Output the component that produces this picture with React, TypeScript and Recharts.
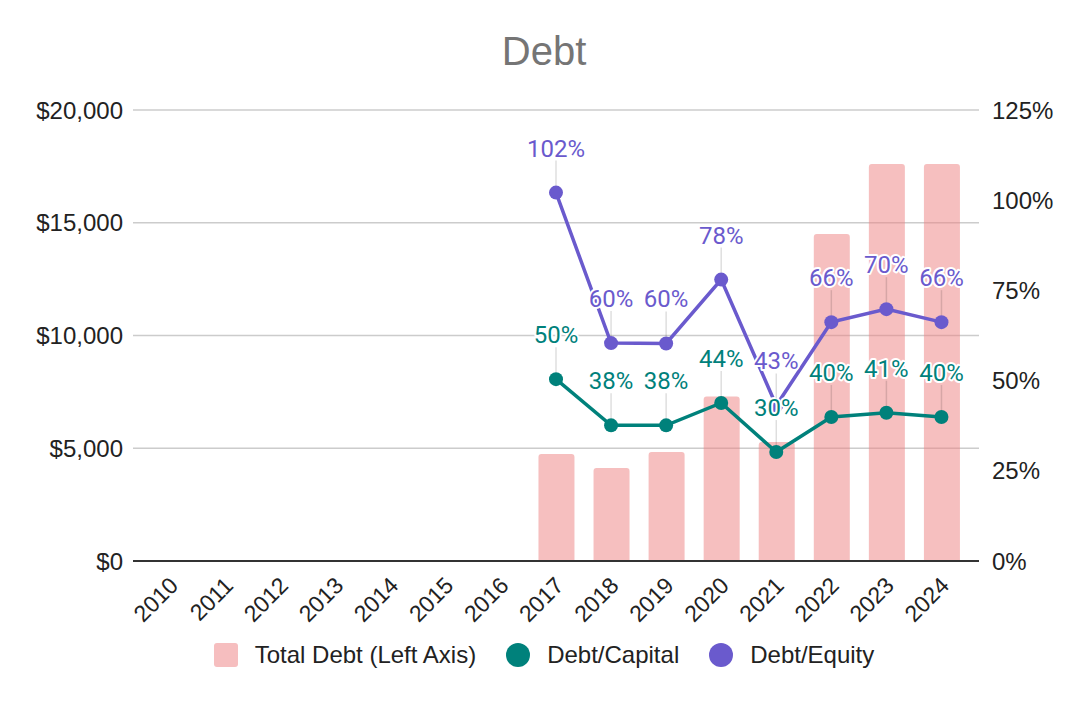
import {
  Bar,
  CartesianGrid,
  ComposedChart,
  LabelList,
  Line,
  XAxis,
  YAxis,
} from "recharts";

const YEARS = [
  "2010", "2011", "2012", "2013", "2014", "2015", "2016",
  "2017", "2018", "2019", "2020", "2021", "2022", "2023", "2024",
];

// total debt in $ (left axis), null where no data
const TOTAL_DEBT = [
  null, null, null, null, null, null, null,
  4750, 4120, 4830, 7290, 5280, 14500, 17600, 17600,
];

// ratios in % (right axis)
const DEBT_CAPITAL = [
  null, null, null, null, null, null, null,
  50.4, 37.6, 37.6, 43.8, 30.2, 39.9, 41.1, 39.9,
];
const DEBT_EQUITY = [
  null, null, null, null, null, null, null,
  102.1, 60.4, 60.3, 78.0, 43.1, 66.2, 69.8, 66.2,
];

const LEFT_TICKS = [0, 5000, 10000, 15000, 20000];
const RIGHT_TICKS = [0, 25, 50, 75, 100, 125];

const SERIES = [
  { name: "Total Debt (Left Axis)", color: "#f6bebf", shape: "square" },
  { name: "Debt/Capital", color: "#00817b", shape: "circle" },
  { name: "Debt/Equity", color: "#6a5acd", shape: "circle" },
];

const BAR_FILL = "#ee7f80";
const TEAL = "#00817b";
const PURPLE = "#6a5acd";
const AXIS_FONT = "'Liberation Sans', Arial, sans-serif";

const data = YEARS.map((year, i) => ({
  year,
  debt: TOTAL_DEBT[i],
  dc: DEBT_CAPITAL[i],
  de: DEBT_EQUITY[i],
}));

const fmtDollar = (v: number) => "$" + v.toLocaleString("en-US");

function YearTick(props: any) {
  const { x, y, payload } = props;
  const tx = x + 9;
  const ty = y + 18;
  return (
    <text
      x={tx}
      y={ty}
      transform={`rotate(-45 ${tx} ${ty})`}
      textAnchor="end"
      fontSize={23}
      fontFamily={AXIS_FONT}
      fill="#222"
    >
      {payload.value}
    </text>
  );
}

function makePointLabel(color: string) {
  return function PointLabel(props: any) {
    const { x, y, value } = props;
    if (value == null || x == null || y == null) return <g />;
    return (
      <g>
        <line
          x1={x}
          x2={x}
          y1={y - 32}
          y2={y - 7}
          stroke="rgba(0,0,0,0.13)"
          strokeWidth={1.5}
        />
        <text
          x={x}
          y={y - 36}
          textAnchor="middle"
          fill={color}
          stroke="#fff"
          strokeWidth={4}
          strokeLinejoin="round"
          paintOrder="stroke"
          fontSize={24}
          fontFamily="Roboto, sans-serif"
        >
          {Math.round(value)}%
        </text>
      </g>
    );
  };
}

export default function App() {
  return (
    <div
      style={{
        position: "absolute",
        left: 0,
        top: 0,
        width: 1088,
        height: 702,
        background: "#fff",
      }}
    >
      <div
        style={{
          position: "absolute",
          left: 0,
          top: 31,
          width: 1088,
          textAlign: "center",
          fontFamily: AXIS_FONT,
          fontSize: 40,
          lineHeight: "40px",
          color: "#757575",
        }}
      >
        Debt
      </div>
      <ComposedChart
        width={1088}
        height={702}
        data={data}
        margin={{ top: 110, right: 0, left: 0, bottom: 0 }}
      >
        <CartesianGrid vertical={false} stroke="#cccccc" strokeWidth={1.3} yAxisId="left" />
        <XAxis
          dataKey="year"
          interval={0}
          height={141}
          padding={{ left: 10, right: 10 }}
          axisLine={{ stroke: "#333", strokeWidth: 2 }}
          tickLine={false}
          tick={<YearTick />}
        />
        <YAxis
          yAxisId="left"
          orientation="left"
          width={133}
          domain={[0, 20000]}
          ticks={LEFT_TICKS}
          axisLine={false}
          tickLine={false}
          tickMargin={4}
          tickFormatter={fmtDollar}
          tick={{ fontSize: 24, fill: "#222", fontFamily: AXIS_FONT }}
        />
        <YAxis
          yAxisId="right"
          orientation="right"
          width={109}
          domain={[0, 125]}
          ticks={RIGHT_TICKS}
          axisLine={false}
          tickLine={false}
          tickMargin={7}
          tickFormatter={(v: number) => `${v}%`}
          tick={{ fontSize: 24, fill: "#222", fontFamily: AXIS_FONT }}
        />
        <Bar
          yAxisId="left"
          dataKey="debt"
          fill={BAR_FILL}
          fillOpacity={0.5}
          barSize={36}
          radius={[3, 3, 0, 0]}
          isAnimationActive={false}
        />
        <Line
          yAxisId="right"
          dataKey="dc"
          type="linear"
          stroke={TEAL}
          strokeWidth={3.5}
          dot={{ r: 7, fill: TEAL, stroke: "none" }}
          activeDot={false}
          isAnimationActive={false}
        />
        <Line
          yAxisId="right"
          dataKey="de"
          type="linear"
          stroke={PURPLE}
          strokeWidth={3.5}
          dot={{ r: 7, fill: PURPLE, stroke: "none" }}
          activeDot={false}
          isAnimationActive={false}
        />
        <Line
          yAxisId="right"
          dataKey="dc"
          stroke="none"
          dot={false}
          activeDot={false}
          legendType="none"
          isAnimationActive={false}
        >
          <LabelList dataKey="dc" content={makePointLabel(TEAL)} />
        </Line>
        <Line
          yAxisId="right"
          dataKey="de"
          stroke="none"
          dot={false}
          activeDot={false}
          legendType="none"
          isAnimationActive={false}
        >
          <LabelList dataKey="de" content={makePointLabel(PURPLE)} />
        </Line>
      </ComposedChart>
      <div
        style={{
          position: "absolute",
          left: 0,
          top: 643,
          width: 1088,
          height: 24,
          display: "flex",
          justifyContent: "center",
          alignItems: "center",
          gap: 30,
          fontFamily: AXIS_FONT,
          fontSize: 24,
          lineHeight: "24px",
          color: "#222",
        }}
      >
        {SERIES.map((s) => (
          <div key={s.name} style={{ display: "flex", alignItems: "center" }}>
            <span
              style={{
                display: "inline-block",
                width: 24,
                height: 24,
                marginRight: 17,
                background: s.color,
                borderRadius: s.shape === "circle" ? 12 : 3,
              }}
            />
            <span>{s.name}</span>
          </div>
        ))}
      </div>
    </div>
  );
}
